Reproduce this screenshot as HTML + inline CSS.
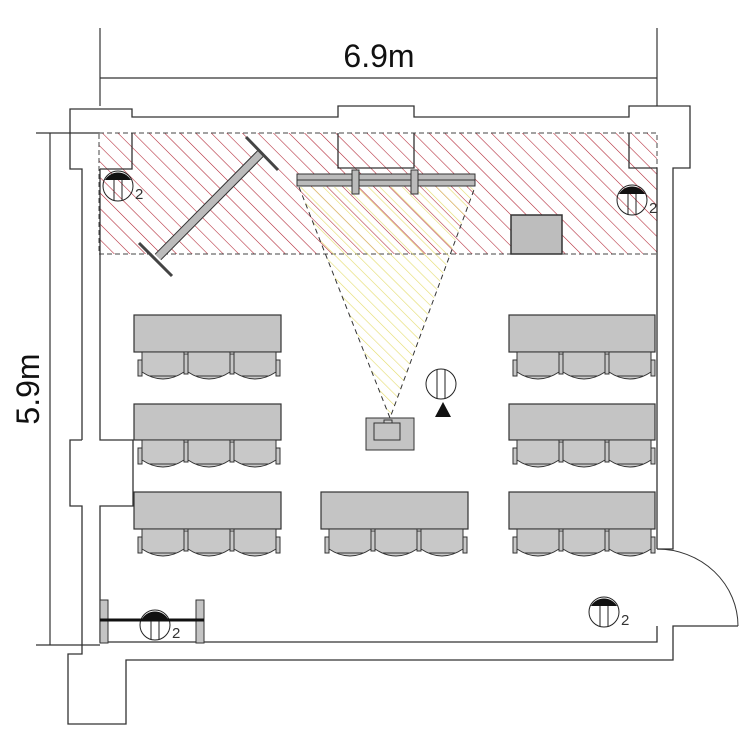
<!DOCTYPE html>
<html><head><meta charset="utf-8"><style>html,body{margin:0;padding:0;background:#fff}svg{display:block}</style></head>
<body>
<svg width="750" height="750" viewBox="0 0 750 750" xmlns="http://www.w3.org/2000/svg">
<defs>
<pattern id="red" patternUnits="userSpaceOnUse" width="11" height="11" patternTransform="rotate(-45)">
<line x1="0" y1="0" x2="0" y2="11" stroke="#b02030" stroke-width="1.1"/>
</pattern>
<pattern id="yel" patternUnits="userSpaceOnUse" width="8" height="8" patternTransform="rotate(-45)">
<line x1="0" y1="0" x2="0" y2="8" stroke="#e4dc6a" stroke-width="1.2"/>
</pattern>
<g id="chairs">
<g fill="#c8c8c8" stroke="#333" stroke-width="1">
<path d="M8,0 L8,20 Q29,34 50,20 L50,0 Z"/>
<path d="M54,0 L54,20 Q75,34 96,20 L96,0 Z"/>
<path d="M100,0 L100,20 Q121,34 142,20 L142,0 Z"/>
<rect x="4" y="8" width="4" height="16"/><rect x="50" y="2" width="4" height="20"/>
<rect x="96" y="2" width="4" height="20"/><rect x="142" y="8" width="4" height="16"/>
</g>
<g stroke="#333" stroke-width="1"><line x1="16" y1="24" x2="42" y2="24"/><line x1="62" y1="24" x2="88" y2="24"/><line x1="108" y1="24" x2="134" y2="24"/></g>
</g>
<g id="lamp">
<circle cx="0" cy="0" r="15" fill="none" stroke="#222" stroke-width="1"/>
<path d="M-13,-6 A15,15 0 0 1 13,-6 Z" fill="#111"/>
<line x1="-4" y1="-6" x2="-4" y2="15" stroke="#222"/>
<line x1="4" y1="-6" x2="4" y2="15" stroke="#222"/>
<text x="17" y="13" font-family="Liberation Sans, sans-serif" font-size="15" fill="#333">2</text>
</g>
</defs>

<g stroke="#333" stroke-width="1.2" fill="none">
<line x1="100" y1="28" x2="100" y2="106"/>
<line x1="657" y1="28" x2="657" y2="106"/>
<line x1="100" y1="78" x2="657" y2="78"/>
<line x1="50" y1="133" x2="50" y2="645"/>
<line x1="36" y1="133" x2="100" y2="133"/>
<line x1="36" y1="645" x2="100" y2="645"/>
</g>
<text x="379" y="67" text-anchor="middle" font-family="Liberation Sans, sans-serif" font-size="32" fill="#111">6.9m</text>
<text transform="translate(39,389) rotate(-90)" text-anchor="middle" font-family="Liberation Sans, sans-serif" font-size="32" fill="#111">5.9m</text>

<rect x="99" y="133" width="558" height="121" fill="url(#red)"/>
<rect x="99" y="133" width="558" height="121" fill="none" stroke="#444" stroke-width="1" stroke-dasharray="5,3"/>

<g stroke="#333" stroke-width="1.3" fill="none">
<path d="M82,440 L82,169 L70,169 L70,109 L132,109 L132,117 L338,117 L338,106 L414,106 L414,117 L629,117 L629,106 L690,106 L690,168 L673,168 L673,549 L657,549"/>
<path d="M82,440 L70,440 L70,506 L82,506 L82,654 L68,654 L68,724 L126,724 L126,660 L673,660 L673,626 L738,626"/>
<path d="M100,169 L100,440 L133,440 L133,506 L100,506 L100,642 L657,642 L657,626"/>
<path d="M657,549 L657,168"/>
<path d="M100,169 L132,169 L132,133"/>
<path d="M338,133 L338,168 L414,168 L414,133"/>
<path d="M629,133 L629,168 L657,168"/>
<path d="M657,549 A81,77 0 0 1 738,626" stroke-width="1"/>
</g>

<line x1="261" y1="153" x2="158" y2="257" stroke="#333" stroke-width="9"/>
<line x1="261" y1="153" x2="158" y2="257" stroke="#bbb" stroke-width="7"/>
<line x1="246" y1="137" x2="278" y2="170" stroke="#444" stroke-width="3"/>
<line x1="139" y1="243" x2="172" y2="276" stroke="#444" stroke-width="3"/>

<path d="M299,187 L475,187 L390,418 Z" fill="url(#yel)"/>
<path d="M299,187 L390,418 L475,187" fill="none" stroke="#333" stroke-width="1" stroke-dasharray="5,4"/>
<rect x="297" y="174" width="178" height="12" fill="#bbb" stroke="#333"/>
<line x1="297" y1="180" x2="475" y2="180" stroke="#333"/>
<rect x="352" y="170" width="7" height="24" fill="#bbb" stroke="#333"/>
<rect x="411" y="170" width="7" height="24" fill="#bbb" stroke="#333"/>

<rect x="511" y="215" width="51" height="39" fill="#bdbdbd" stroke="#333" stroke-width="1.5"/>

<rect x="366" y="418" width="48" height="32" fill="#c4c4c4" stroke="#333"/>
<rect x="374" y="423" width="26" height="17" fill="#c4c4c4" stroke="#333"/>
<rect x="384" y="420" width="8" height="3" fill="#ccc" stroke="#333"/>

<circle cx="441" cy="384" r="15" fill="none" stroke="#222"/>
<line x1="437" y1="370" x2="437" y2="399" stroke="#222"/>
<line x1="445" y1="370" x2="445" y2="399" stroke="#222"/>
<path d="M443,402 L435,417 L451,417 Z" fill="#111"/>

<g fill="#c4c4c4" stroke="#333" stroke-width="1.2">
<rect x="134" y="315" width="147" height="37"/>
<rect x="134" y="404" width="147" height="36"/>
<rect x="134" y="492" width="147" height="37"/>
<rect x="321" y="492" width="147" height="37"/>
<rect x="509" y="315" width="146" height="37"/>
<rect x="509" y="404" width="146" height="36"/>
<rect x="509" y="492" width="146" height="37"/>
</g>
<use href="#chairs" x="134" y="352"/>
<use href="#chairs" x="134" y="440"/>
<use href="#chairs" x="134" y="529"/>
<use href="#chairs" x="321" y="529"/>
<use href="#chairs" x="509" y="352"/>
<use href="#chairs" x="509" y="440"/>
<use href="#chairs" x="509" y="529"/>

<use href="#lamp" x="118" y="186"/>
<use href="#lamp" x="632" y="200"/>
<use href="#lamp" x="604" y="612"/>

<rect x="100" y="600" width="8" height="43" fill="#c4c4c4" stroke="#333"/>
<rect x="196" y="600" width="8" height="43" fill="#c4c4c4" stroke="#333"/>
<use href="#lamp" x="155" y="625"/>
<line x1="100" y1="620" x2="204" y2="620" stroke="#111" stroke-width="3"/>
</svg>
</body></html>
